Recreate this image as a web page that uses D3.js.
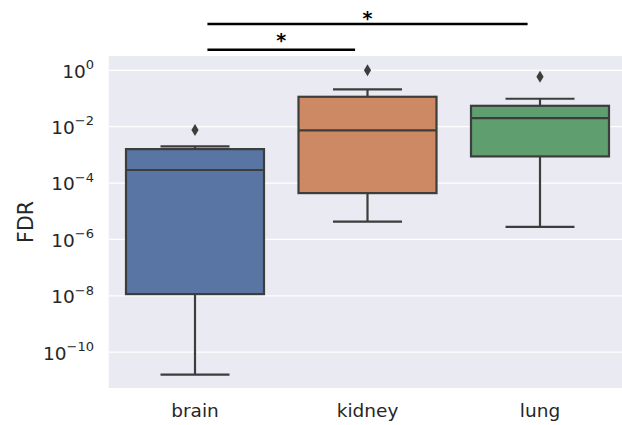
<!DOCTYPE html>
<html>
<head>
<meta charset="utf-8">
<script src="https://cdn.jsdelivr.net/npm/d3@7"></script>
<style>
  html, body { margin: 0; padding: 0; background: #fff; }
  svg { display: block; font-family: "DejaVu Sans", sans-serif; }
</style>
</head>
<body>
<svg id="chart" width="622" height="425"></svg>
<script>
// Per-tissue FDR distributions (box-plot summary statistics)
const categories = ["brain", "kidney", "lung"];
const colors = ["#5975a4", "#cc8963", "#5f9e6e"];
const whiskerLow = [1.6e-11, 4.3e-6, 2.8e-6];
const q1 = [1.15e-8, 4.4e-5, 8.8e-4];
const median = [2.9e-4, 7.4e-3, 2.0e-2];
const q3 = [1.6e-3, 0.115, 0.055];
const whiskerHigh = [2.0e-3, 0.21, 0.098];
const outliers = [[7.6e-3], [1.0], [0.59]];

// y-axis ticks (decades) and significance brackets
const yTickExponents = [0, -2, -4, -6, -8, -10];
const comparisons = [
  { from: "brain", to: "kidney", label: "*", level: 0 },
  { from: "brain", to: "lung", label: "*", level: 1 }
];

const svg = d3.select("#chart");
const plot = { left: 108.75, right: 626.25, top: 56, bottom: 388 };

const x = d3.scaleBand().domain(categories).range([plot.left, plot.right]).padding(0);
const y = d3.scaleLog()
  .domain([Math.pow(10, -11.27), Math.pow(10, 0.507)])
  .range([plot.bottom, plot.top]);

const cx = c => x(c) + x.bandwidth() / 2;
const boxW = x.bandwidth() * 0.8;
const capW = boxW * 0.5;
const edge = "#3d3d3d";
const lw = 2.2;

// background
svg.append("rect")
  .attr("x", plot.left).attr("y", plot.top)
  .attr("width", plot.right - plot.left).attr("height", plot.bottom - plot.top)
  .attr("fill", "#eaeaf2");

// horizontal grid
svg.append("g").selectAll("line").data(yTickExponents).join("line")
  .attr("x1", plot.left).attr("x2", plot.right)
  .attr("y1", e => y(Math.pow(10, e))).attr("y2", e => y(Math.pow(10, e)))
  .attr("stroke", "#fff").attr("stroke-width", 1.3);

// y tick labels: 10^e
const yt = svg.append("g").selectAll("text").data(yTickExponents).join("text")
  .attr("x", 94).attr("y", e => y(Math.pow(10, e)) + 7.4)
  .attr("text-anchor", "end").attr("font-size", 18.5).attr("fill", "#262626");
yt.append("tspan").text("10");
yt.append("tspan").attr("dy", -8.6).attr("font-size", 13)
  .text(e => e === 0 ? "0" : "\u2212" + Math.abs(e));

// x tick labels
svg.append("g").selectAll("text").data(categories).join("text")
  .attr("x", d => cx(d)).attr("y", 417.3)
  .attr("text-anchor", "middle").attr("font-size", 18.5).attr("fill", "#262626")
  .text(d => d);

// y axis title
svg.append("text")
  .attr("transform", `translate(32.5,${(plot.top + plot.bottom) / 2}) rotate(-90)`)
  .attr("text-anchor", "middle").attr("font-size", 20.5).attr("fill", "#262626")
  .text("FDR");

// boxes
const boxes = svg.append("g").selectAll("g").data(categories).join("g");
boxes.each(function (c, i) {
  const g = d3.select(this);
  const m = cx(c);
  // whiskers
  g.append("line").attr("x1", m).attr("x2", m)
    .attr("y1", y(q1[i])).attr("y2", y(whiskerLow[i]))
    .attr("stroke", edge).attr("stroke-width", lw);
  g.append("line").attr("x1", m).attr("x2", m)
    .attr("y1", y(q3[i])).attr("y2", y(whiskerHigh[i]))
    .attr("stroke", edge).attr("stroke-width", lw);
  // caps
  [whiskerLow[i], whiskerHigh[i]].forEach(v => {
    g.append("line").attr("x1", m - capW / 2).attr("x2", m + capW / 2)
      .attr("y1", y(v)).attr("y2", y(v))
      .attr("stroke", edge).attr("stroke-width", lw);
  });
  // box
  g.append("rect")
    .attr("x", m - boxW / 2).attr("width", boxW)
    .attr("y", y(q3[i])).attr("height", y(q1[i]) - y(q3[i]))
    .attr("fill", colors[i]).attr("stroke", edge).attr("stroke-width", lw);
  // median
  g.append("line").attr("x1", m - boxW / 2).attr("x2", m + boxW / 2)
    .attr("y1", y(median[i])).attr("y2", y(median[i]))
    .attr("stroke", edge).attr("stroke-width", lw);
  // fliers
  g.selectAll("path.flier").data(outliers[i]).join("path")
    .attr("class", "flier")
    .attr("transform", v => `translate(${m},${y(v)})`)
    .attr("d", "M0,-6L3.6,0L0,6L-3.6,0Z")
    .attr("fill", edge);
});

// significance brackets above the plot
const inset = x.bandwidth() * 0.072;
const levelY = [49.7, 24];
const labelY = [46.7, 24.5];
const sig = svg.append("g").selectAll("g").data(comparisons).join("g");
sig.append("line")
  .attr("x1", d => cx(d.from) + inset).attr("x2", d => cx(d.to) - inset)
  .attr("y1", d => levelY[d.level]).attr("y2", d => levelY[d.level])
  .attr("stroke", "#000").attr("stroke-width", 2.6);
sig.append("text")
  .attr("x", d => (cx(d.from) + cx(d.to)) / 2)
  .attr("y", d => labelY[d.level])
  .attr("text-anchor", "middle").attr("font-size", 19).attr("font-weight", "bold")
  .attr("fill", "#000")
  .text(d => d.label);
</script>
</body>
</html>
